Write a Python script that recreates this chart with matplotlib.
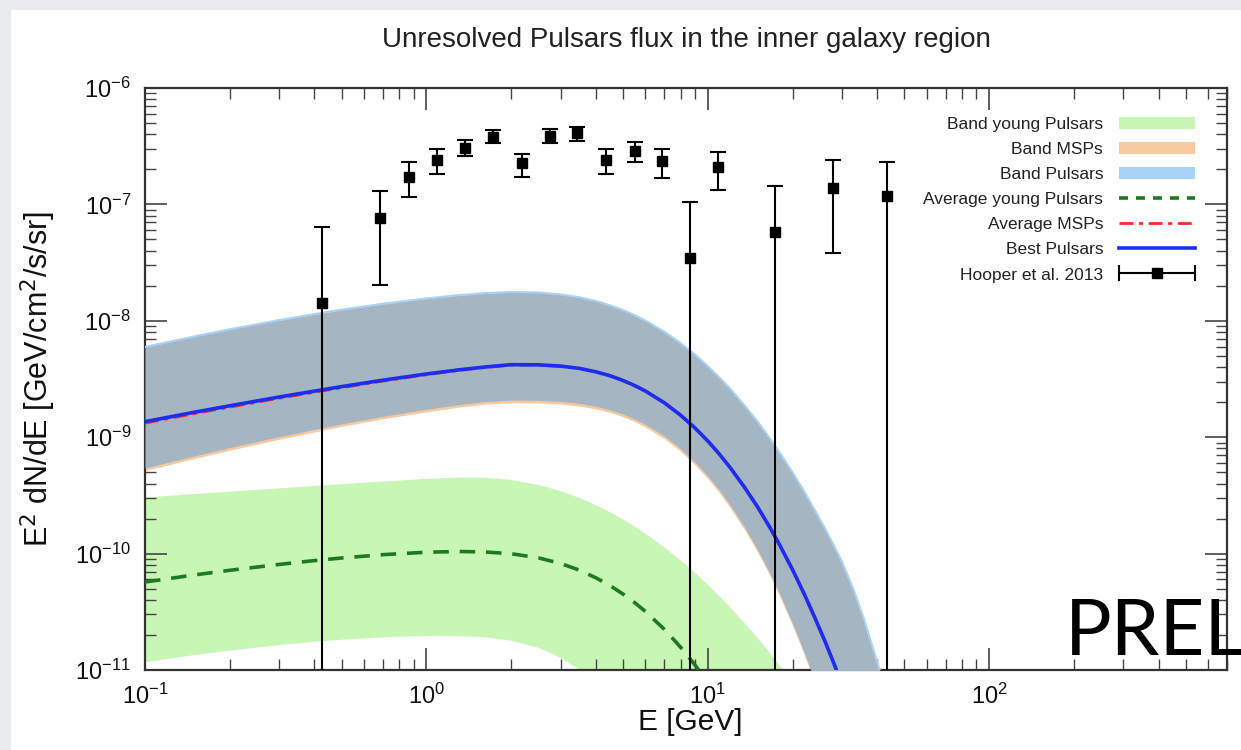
import matplotlib.pyplot as plt
import numpy as np
from matplotlib.patches import Patch, Rectangle
from matplotlib.lines import Line2D
from matplotlib.collections import LineCollection
from matplotlib.container import ErrorbarContainer
from matplotlib.legend_handler import HandlerErrorbar
from matplotlib.ticker import LogLocator, NullFormatter

plt.rcParams['font.family'] = ['Liberation Sans', 'DejaVu Sans']
plt.rcParams['axes.unicode_minus'] = False

# energy grid [GeV] used for the model curves and bands
energy = [0.1, 0.15, 0.2, 0.3, 0.4, 0.5, 0.7, 1.0, 1.3, 1.6, 2.0, 2.5, 3.0, 3.5, 4.0,
          4.5, 5.0, 5.5, 6.0, 7.0, 8.0, 9.0, 10, 11, 12, 13.5, 15, 16.5, 18, 20,
          22, 24, 26, 28, 30, 33, 36, 40, 45]

# E^2 dN/dE [GeV/cm^2/s/sr]
best_pulsars = [1.359e-9, 1.640e-9, 1.861e-9, 2.215e-9, 2.489e-9, 2.721e-9, 3.088e-9,
                3.491e-9, 3.786e-9, 4.001e-9, 4.197e-9, 4.188e-9, 4.082e-9, 3.901e-9,
                3.646e-9, 3.370e-9, 3.070e-9, 2.775e-9, 2.494e-9, 1.979e-9, 1.548e-9,
                1.202e-9, 9.28e-10, 7.145e-10, 5.492e-10, 3.719e-10, 2.534e-10,
                1.730e-10, 1.188e-10, 7.29e-11, 4.514e-11, 2.820e-11, 1.800e-11,
                1.155e-11, 7.48e-12, 3.98e-12, 2.0e-12, 8e-13, 2e-13]
average_msps = [1.32e-9, 1.595e-9, 1.81e-9, 2.16e-9, 2.43e-9, 2.66e-9, 3.03e-9, 3.44e-9,
                3.74e-9, 3.96e-9, 4.16e-9, 4.16e-9, 4.06e-9, 3.89e-9, 3.64e-9, 3.370e-9,
                3.070e-9, 2.775e-9, 2.494e-9, 1.979e-9, 1.548e-9, 1.202e-9, 9.28e-10,
                7.145e-10, 5.492e-10, 3.719e-10, 2.534e-10, 1.730e-10, 1.188e-10,
                7.29e-11, 4.514e-11, 2.820e-11, 1.800e-11, 1.155e-11, 7.48e-12,
                3.98e-12, 2.0e-12, 8e-13, 2e-13]
average_young = [5.70e-11, 6.561e-11, 7.186e-11, 8.075e-11, 8.709e-11, 9.17e-11, 9.79e-11,
                 1.028e-10, 1.042e-10, 1.034e-10, 9.98e-11, 9.20e-11, 8.22e-11, 7.20e-11,
                 6.197e-11, 5.299e-11, 4.488e-11, 3.786e-11, 3.187e-11, 2.241e-11,
                 1.573e-11, 1.106e-11, 7.81e-12, 5.52e-12, 4.02e-12, 2e-12, 1e-12,
                 1e-13, 1e-13, 1e-13, 1e-13, 1e-13, 1e-13, 1e-13, 1e-13, 1e-13, 1e-13,
                 1e-13, 1e-13]

band_pulsars_hi = [5.957e-9, 7.345e-9, 8.453e-9, 1.014e-8, 1.142e-8, 1.246e-8, 1.400e-8,
                   1.557e-8, 1.660e-8, 1.726e-8, 1.768e-8, 1.750e-8, 1.686e-8, 1.592e-8,
                   1.479e-8, 1.356e-8, 1.236e-8, 1.117e-8, 1.004e-8, 8.075e-9, 6.446e-9,
                   5.133e-9, 4.090e-9, 3.264e-9, 2.615e-9, 1.880e-9, 1.373e-9, 1.000e-9,
                   7.403e-10, 4.994e-10, 3.429e-10, 2.373e-10, 1.673e-10, 1.186e-10,
                   8.50e-11, 4.87e-11, 2.690e-11, 1.171e-11, 4.72e-12]
band_pulsars_lo = [5.437e-10, 6.908e-10, 8.140e-10, 1.010e-9, 1.169e-9, 1.301e-9, 1.512e-9,
                   1.740e-9, 1.902e-9, 2.018e-9, 2.087e-9, 2.075e-9, 2.030e-9, 1.951e-9,
                   1.843e-9, 1.716e-9, 1.576e-9, 1.430e-9, 1.288e-9, 1.026e-9, 7.965e-10,
                   6.110e-10, 4.642e-10, 3.498e-10, 2.615e-10, 1.692e-10, 1.091e-10,
                   7.03e-11, 4.524e-11, 2.534e-11, 1.427e-11, 8.07e-12, 4.72e-12,
                   2.76e-12, 1e-12, 5e-13, 3e-13, 2e-13, 1e-13]
band_msps_hi = [5.72e-9, 7.05e-9, 8.11e-9, 9.73e-9, 1.096e-8, 1.196e-8, 1.344e-8, 1.495e-8,
                1.594e-8, 1.657e-8, 1.697e-8, 1.68e-8, 1.619e-8, 1.528e-8, 1.42e-8,
                1.302e-8, 1.187e-8, 1.072e-8, 9.64e-9, 7.75e-9, 6.19e-9, 4.93e-9, 3.93e-9,
                3.13e-9, 2.51e-9, 1.80e-9, 1.32e-9, 9.6e-10, 7.1e-10, 4.79e-10, 3.29e-10,
                2.28e-10, 1.61e-10, 1.14e-10, 8.2e-11, 4.7e-11, 2.58e-11, 1.12e-11, 4.5e-12]
band_msps_lo = [5.17e-10, 6.56e-10, 7.73e-10, 9.6e-10, 1.11e-9, 1.24e-9, 1.44e-9, 1.65e-9,
                1.81e-9, 1.92e-9, 1.98e-9, 1.97e-9, 1.93e-9, 1.85e-9, 1.75e-9, 1.63e-9,
                1.50e-9, 1.36e-9, 1.22e-9, 9.75e-10, 7.57e-10, 5.80e-10, 4.41e-10,
                3.32e-10, 2.48e-10, 1.61e-10, 1.04e-10, 6.7e-11, 4.3e-11, 2.41e-11,
                1.36e-11, 7.7e-12, 4.5e-12, 2.6e-12, 9.5e-13, 4.8e-13, 2.9e-13, 1.9e-13, 1e-13]
band_young_hi = [3.064e-10, 3.284e-10, 3.443e-10, 3.676e-10, 3.854e-10, 3.994e-10,
                 4.206e-10, 4.426e-10, 4.551e-10, 4.533e-10, 4.331e-10, 3.924e-10,
                 3.463e-10, 3.028e-10, 2.625e-10, 2.277e-10, 1.975e-10, 1.713e-10,
                 1.491e-10, 1.139e-10, 8.79e-11, 6.853e-11, 5.395e-11, 4.305e-11,
                 3.457e-11, 2.534e-11, 1.891e-11, 1.427e-11, 1.091e-11, 7.79e-12,
                 5.52e-12, 4.1e-12, 2e-12, 1e-12, 8e-13, 5e-13, 3e-13, 2e-13, 1e-13]
band_young_lo = [1.178e-11, 1.359e-11, 1.485e-11, 1.656e-11, 1.768e-11, 1.839e-11,
                 1.929e-11, 1.979e-11, 1.971e-11, 1.933e-11, 1.803e-11, 1.561e-11,
                 1.280e-11, 1.010e-11, 7.73e-12, 5.52e-12, 2e-12, 1e-12, 1e-13, 1e-13,
                 1e-13, 1e-13, 1e-13, 1e-13, 1e-13, 1e-13, 1e-13, 1e-13, 1e-13, 1e-13,
                 1e-13, 1e-13, 1e-13, 1e-13, 1e-13, 1e-13, 1e-13, 1e-13, 1e-13]

# Hooper et al. 2013 data points
hooper_e = [0.424, 0.685, 0.865, 1.09, 1.37, 1.72, 2.18, 2.74, 3.43, 4.33, 5.50, 6.90,
            8.61, 10.9, 17.4, 27.8, 43.5]
hooper_flux = [1.43e-8, 7.6e-8, 1.71e-7, 2.40e-7, 3.03e-7, 3.82e-7, 2.25e-7, 3.89e-7,
               4.08e-7, 2.40e-7, 2.89e-7, 2.36e-7, 3.44e-8, 2.09e-7, 5.82e-8, 1.39e-7, 1.19e-7]
hooper_hi = [6.4e-8, 1.31e-7, 2.33e-7, 2.99e-7, 3.57e-7, 4.36e-7, 2.71e-7, 4.44e-7,
             4.63e-7, 2.99e-7, 3.46e-7, 2.99e-7, 1.04e-7, 2.84e-7, 1.44e-7, 2.40e-7, 2.33e-7]
hooper_lo = [1e-13, 2.04e-8, 1.15e-7, 1.82e-7, 2.61e-7, 3.37e-7, 1.73e-7, 3.37e-7,
             3.51e-7, 1.82e-7, 2.30e-7, 1.67e-7, 1e-13, 1.33e-7, 1e-13, 3.80e-8, 1e-13]

c_green = '#c8f6b4'
c_orange = '#f7c9a1'
c_lblue = '#a9d3f5'
c_slate = '#a5b5c2'

fig = plt.figure(figsize=(12.41, 7.5), dpi=100)
fig.patch.set_facecolor('#e8eaed')
fig.add_artist(Rectangle((11 / 1241, 0), 1, 1 - 10 / 750, transform=fig.transFigure,
                         facecolor='white', edgecolor='none', zorder=-1))

ax = fig.add_axes([145 / 1241, 80 / 750, 1082 / 1241, 582 / 750])
ax.set_xscale('log')
ax.set_yscale('log')

ax.fill_between(energy, band_young_lo, band_young_hi, color=c_green, lw=0, zorder=1)
ax.fill_between(energy, band_msps_lo, band_msps_hi, color=c_orange, lw=0, zorder=2)
ax.fill_between(energy, band_pulsars_lo, band_pulsars_hi, color=c_slate, lw=0, zorder=3)
ax.plot(energy, band_pulsars_hi, color=c_lblue, lw=1.5, zorder=3)

ax.plot(energy, average_young, color='#1f7a1f', lw=2.6, dashes=(4.3, 3), zorder=4)
ax.plot(energy, average_msps, color='#ff2a2a', lw=2.0, dashes=(5, 2, 1.5, 2), zorder=5)
ax.plot(energy, best_pulsars, color='#1c2cf0', lw=2.6, zorder=6)

flux = np.array(hooper_flux)
yerr = [flux - np.array(hooper_lo), np.array(hooper_hi) - flux]
ax.errorbar(hooper_e, flux, yerr=yerr, fmt='s', color='k', ms=7.8, capsize=5.5,
            elinewidth=1.5, capthick=1.5, zorder=7)

ax.set_xlim(0.1, 700)
ax.set_ylim(1e-11, 1e-6)

for axis in (ax.xaxis, ax.yaxis):
    axis.set_minor_locator(LogLocator(base=10, subs=np.arange(2, 10), numticks=100))
    axis.set_minor_formatter(NullFormatter())
ax.tick_params(which='both', direction='in', top=True, right=True, color='#444444')
ax.tick_params(which='major', length=16, width=1.2, labelsize=17, pad=10, labelcolor='#111111')
ax.tick_params(which='minor', length=8, width=1.0)
for sp in ax.spines.values():
    sp.set_linewidth(1.6)
    sp.set_color('#333333')

ax.set_ylabel(r'E$^2$ dN/dE [GeV/cm$^2$/s/sr]', fontsize=22, color='#111111')
ax.yaxis.set_label_coords(-0.08, 0.5)
ax.set_xlabel('E [GeV]', fontsize=21.5, color='#111111')
ax.xaxis.set_label_coords(0.504, -0.066)

fig.text(686 / 1241, 1 - 40 / 750, 'Unresolved Pulsars flux in the inner galaxy region',
         ha='center', va='center', fontsize=20, color='#222222')

# legend (labels on the left, symbols on the right)
err_marker = Line2D([], [], color='k', marker='s', ms=7.5, ls='none')
err_cap = Line2D([], [], color='k', marker='|', ms=11, mew=1.5, ls='none')
err_bar = LineCollection([], colors='k', linewidths=1.5)
hooper_proxy = ErrorbarContainer((err_marker, (err_cap, err_cap), (err_bar,)),
                                 has_xerr=True, has_yerr=False)
handles = [
    Patch(facecolor=c_green, edgecolor='none'),
    Patch(facecolor=c_orange, edgecolor='none'),
    Patch(facecolor=c_lblue, edgecolor='none'),
    Line2D([], [], color='#1f7a1f', lw=2.6, dashes=(2.5, 2.2)),
    Line2D([], [], color='#ff2a2a', lw=2.0, dashes=(5, 2, 1.5, 2)),
    Line2D([], [], color='#1c2cf0', lw=2.6),
    hooper_proxy,
]
labels = ['Band young Pulsars', 'Band MSPs', 'Band Pulsars', 'Average young Pulsars',
          'Average MSPs', 'Best Pulsars', 'Hooper et al. 2013']
leg = ax.legend(handles, labels, loc='upper right', bbox_to_anchor=(0.977, 0.962),
                frameon=False, fontsize=12.5, markerfirst=False, handlelength=4.4,
                handletextpad=0.9, labelspacing=0.57, numpoints=1, borderaxespad=0,
                handler_map={ErrorbarContainer: HandlerErrorbar(xerr_size=2.2)})
for t in leg.get_texts():
    t.set_color('#222222')

fig.text(1065 / 1241, 1 - 655 / 750, 'PRELIMINARY', fontsize=56, ha='left',
         va='baseline', family=['Lato', 'DejaVu Sans'], color='black', zorder=10)

fig.savefig('out.png', dpi=100, facecolor=fig.get_facecolor())
